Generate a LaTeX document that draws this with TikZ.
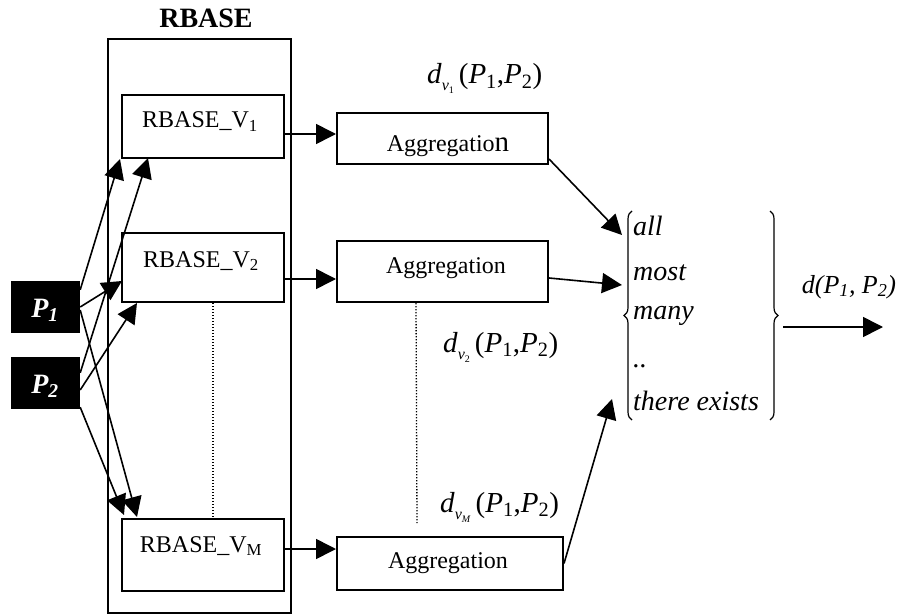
\documentclass[tikz,border=0pt]{standalone}
\usepackage{fontspec}
\setmainfont{Liberation Serif}
\usetikzlibrary{arrows.meta,decorations.pathreplacing,calc}
\newcommand{\dlab}[1]{\textit{d}\raisebox{-7pt}{\fontsize{16}{16}\selectfont\textit{v}\raisebox{-3pt}{\fontsize{10}{10}\selectfont #1}}\hspace{5pt}(\textit{P}\textsubscript{1},\textit{P}\textsubscript{2})}
\begin{document}
\begin{tikzpicture}[x=1pt,y=-1pt,
  box/.style={draw,line width=2pt,inner sep=0pt,fill=white},
  pbox/.style={fill=black,inner sep=0pt,minimum width=69pt,minimum height=52pt},
  ptext/.style={text=white,font=\fontsize{28}{30}\selectfont\bfseries\itshape,anchor=base},
  btext/.style={font=\fontsize{24}{28}\selectfont,anchor=base,inner sep=0pt},
  item/.style={font=\fontsize{28}{32}\selectfont\itshape,anchor=base west,inner sep=0pt},
  dtext/.style={font=\fontsize{29}{32}\selectfont,anchor=base west,inner sep=0pt},
  conn/.style={line width=1.6pt,-{Triangle[length=20pt,width=20pt]}},
  dots/.style={line width=1.3pt,dash pattern=on 1.4pt off 1.6pt},
  curly/.style={line width=1.2pt,decorate,decoration={brace,amplitude=8pt}}]
\useasboundingbox (0,0) rectangle (899,615);

% title and outer box
\node[font=\fontsize{28}{32}\selectfont\bfseries] (title) at (206,18) {RBASE};
\node[draw,line width=2pt,inner sep=0pt,minimum width=183pt,minimum height=574pt] (outer) at (199.5,326) {};

% rule boxes
\node[box,minimum width=162pt,minimum height=63pt] (v1) at (203,126.5) {};
\node[box,minimum width=162pt,minimum height=69pt] (v2) at (203,267.5) {};
\node[box,minimum width=162pt,minimum height=72pt] (vm) at (203,555) {};
\node[btext] (v1t) at (200,128) {RBASE\_V\textsubscript{1}};
\node[btext] (v2t) at (201,267) {RBASE\_V\textsubscript{2}};
\node[btext] (vmt) at (201,552) {RBASE\_V\textsubscript{M}};

% aggregation boxes
\node[box,minimum width=211pt,minimum height=51pt] (a1) at (442.5,138.5) {};
\node[box,minimum width=211pt,minimum height=61pt] (a2) at (442.5,271.5) {};
\node[box,minimum width=226pt,minimum height=53pt] (am) at (450,563.5) {};
\node[btext] (a1t) at (448,151) {Aggregatio{\fontsize{29}{30}\selectfont n}};
\node[btext] (a2t) at (446,273) {Aggregation};
\node[btext] (amt) at (448,568) {Aggregation};

% inputs
\node[pbox] (p1) at (45.5,307) {};
\node[pbox] (p2) at (45.5,383) {};
\node[ptext] (p1t) at (45,317) {P\textsubscript{1}};
\node[ptext] (p2t) at (45,393) {P\textsubscript{2}};

% distance labels
\node[dtext] (d1) at (427,84) {\dlab{1}};
\node[dtext] (d2) at (443,352) {\dlab{2}};
\node[dtext] (dm) at (440,512) {\dlab{\textit{M}}};

% quantifier list
\node[item] (q1) at (633,235) {all};
\node[item] (q2) at (633,280) {most};
\node[item] (q3) at (633,319) {many};
\node[item] (q4) at (633,367) {..};
\node[item] (q5) at (633,410) {there exists};
\coordinate (lb1) at (632,420);
\coordinate (lb2) at (632,211);
\coordinate (rb1) at (770,211);
\coordinate (rb2) at (770,420);
\draw[curly] (lb1) -- (lb2);
\draw[curly] (rb1) -- (rb2);

% output
\coordinate (o0) at (783,327);
\coordinate (o1) at (883,327);
\draw[conn] (o0) -- (o1);
\node[font=\fontsize{26}{30}\selectfont\itshape,anchor=base] (dout) at (849,293) {d(P\textsubscript{1}, P\textsubscript{2})};

% dotted continuation lines
\draw[dots] ($(v2.south)+(10,0)$) -- ($(vm.north)+(10,0)$);
\coordinate (dd) at (417,523);
\draw[dots] ($(a2.south west)+(80,0)$) -- (dd);

% rule base -> aggregation
\coordinate (y1) at (0,134);
\coordinate (y2) at (0,279);
\coordinate (y3) at (0,549);
\draw[conn] (v1.east |- y1) -- (a1.west |- y1);
\draw[conn] (v2.east |- y2) -- (a2.west |- y2);
\draw[conn] (vm.east |- y3) -- (am.west |- y3);

% aggregation -> quantifiers
\coordinate (in1) at (622,235);
\coordinate (in2) at (622,285);
\coordinate (in3) at (612,399);
\draw[conn] ($(a1.south east)+(0,-6)$) -- (in1);
\draw[conn] ($(a2.east)+(0,6.5)$) -- (in2);
\draw[conn] (am.east) -- (in3);

% inputs -> rule bases
\coordinate (t1) at (120,159);
\coordinate (t2) at (148,158);
\coordinate (t3) at (122,281);
\coordinate (t4) at (137,303);
\coordinate (t5) at (137,517);
\coordinate (t6) at (124,515);
\draw[conn] ($(p1.north east)+(0,9)$) -- (t1);
\draw[conn] ($(p2.north east)+(0,16)$) -- (t2);
\draw[conn] (p1.east) -- (t3);
\draw[conn] ($(p2.east)+(0,7)$) -- (t4);
\draw[conn] ($(p1.east)+(0,3)$) -- (t5);
\draw[conn] ($(p2.south east)+(0,-2)$) -- (t6);
\end{tikzpicture}
\end{document}
